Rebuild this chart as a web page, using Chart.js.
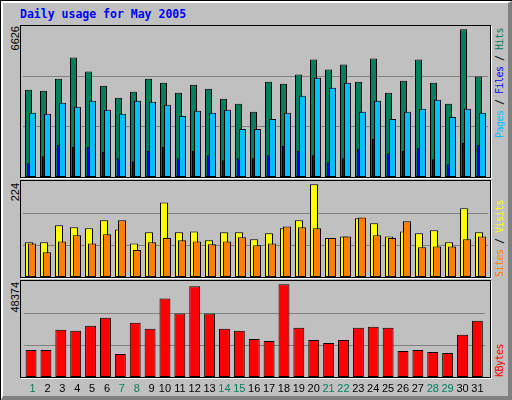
<!DOCTYPE html>
<html><head><meta charset="utf-8">
<script src="https://cdn.jsdelivr.net/npm/chart.js@4.4.1/dist/chart.umd.min.js"></script>
<style>
html,body{margin:0;padding:0;}
body{width:512px;height:400px;overflow:hidden;background:#C0C0C0;position:relative;}
.abs{position:absolute;}
#outer{left:0;top:0;width:512px;height:400px;box-sizing:border-box;border-top:1px solid #000;border-left:1px solid #000;}
#inner{left:1px;top:1px;width:511px;height:399px;box-sizing:border-box;border-top:2px solid #fff;border-left:2px solid #fff;border-right:4px solid #808080;border-bottom:4px solid #808080;}
.panel{position:absolute;box-sizing:border-box;border:1px solid #000;box-shadow:1px 1px 0 #fff;left:20px;width:471px;}
#title{left:20px;top:9px;font:bold 11.5px 'DejaVu Sans Mono',monospace;color:#0000FF;line-height:11.5px;white-space:pre;}
.vt{position:absolute;writing-mode:vertical-rl;transform:rotate(180deg);white-space:pre;}
.lab{font:11px 'Liberation Sans',Arial,sans-serif;line-height:11px;width:11px;color:#000;}
.leg{font:10px 'DejaVu Sans Mono',monospace;line-height:10px;width:10px;letter-spacing:-0.52px;color:#000;}
canvas{position:absolute;}
</style>
</head>
<body>
<div id="outer" class="abs"></div>
<div id="inner" class="abs"></div>
<div id="title" class="abs">Daily usage for May 2005</div>

<div class="panel" style="top:25px;height:153px;"></div>
<div class="panel" style="top:180px;height:98px;"></div>
<div class="panel" style="top:280px;height:98px;"></div>

<canvas id="c1" width="468" height="151" style="left:21px;top:26px;"></canvas>
<canvas id="c2" width="468" height="96" style="left:21px;top:181px;"></canvas>
<canvas id="c3" width="468" height="118" style="left:21px;top:281px;"></canvas>

<div class="vt lab" id="l1" style="left:10px;top:26px;"></div>
<div class="vt lab" id="l2" style="left:10px;top:183px;"></div>
<div class="vt lab" id="l3" style="left:10px;top:282px;"></div>

<div class="vt leg" style="left:495px;top:28px;"><span style="color:#00C0FF">Pages</span> / <span style="color:#0000FF">Files</span> / <span style="color:#00805C">Hits</span></div>
<div class="vt leg" style="left:495px;top:200px;"><span style="color:#FF8000">Sites</span> / <span style="color:#FFFF00">Visits</span></div>
<div class="vt leg" style="left:495px;top:344px;"><span style="color:#FF0000">KBytes</span></div>

<script>
// ---- data ----
const days = [1,2,3,4,5,6,7,8,9,10,11,12,13,14,15,16,17,18,19,20,21,22,23,24,25,26,27,28,29,30,31];
const weekendDays = [1,7,8,14,15,21,22,28,29];
const hits   = [3916,3871,4413,5362,4729,4097,3555,3826,4413,4232,3781,4142,3961,3510,3284,2922,4278,4187,4594,5271,4820,5046,4278,5317,3781,4323,5271,4232,3284,6626,4503];
const files  = [619,935,1432,1342,1342,1116,845,709,1161,1342,845,1161,980,754,845,845,980,1387,1161,980,664,845,1251,1703,1071,1161,1296,800,574,1522,1432];
const pages  = [2877,2832,3329,3148,3419,3013,2832,3419,3374,3239,2742,2968,2877,3013,2155,2155,2606,2877,3645,4458,4007,4232,2922,3419,2606,2922,3058,3465,2697,3058,2877];
const visits = [84,84,125,120,118,137,115,81,108,180,108,110,89,108,108,91,106,118,137,224,94,98,142,130,98,110,106,113,84,166,108];
const sites  = [81,60,86,101,81,103,137,65,84,94,89,86,79,86,96,77,81,122,120,118,94,98,144,101,94,135,72,74,74,91,98];
const kbytes = [14084,14084,24634,24107,26744,30964,11974,28327,25162,40987,33074,47317,33074,25162,24107,19887,18832,48374,25689,19359,17777,19359,25689,26217,25689,13557,14084,13029,12502,21997,29382];
const axisMaxLabels = [6626, 224, 48374];
const dayLabels = days.map(d => (d < 10 ? ' ' : '') + d);

document.getElementById('l1').textContent = String(axisMaxLabels[0]);
document.getElementById('l2').textContent = String(axisMaxLabels[1]);
document.getElementById('l3').textContent = String(axisMaxLabels[2]);

// draw datasets in index order (later ones on top)
const inOrder = {
  id: 'inOrder',
  beforeDatasetsDraw(chart) {
    for (let i = 0; i < chart.data.datasets.length; i++) {
      const m = chart.getDatasetMeta(i);
      if (!m.hidden) m.controller.draw();
    }
    return false;
  }
};

function opts(maxVal, showX) {
  return {
    responsive: false,
    animation: false,
    devicePixelRatio: 1,
    layout: { padding: { left: 2, right: 1, top: 0, bottom: 0 } },
    plugins: { legend: { display: false }, tooltip: { enabled: false }, title: { display: false } },
    scales: {
      x: {
        display: showX,
        grid: { display: false, drawTicks: false },
        border: { display: false },
        ticks: {
          display: showX,
          autoSkip: false, maxRotation: 0, minRotation: 0, padding: 5.5,
          font: { family: "'Liberation Sans', Arial, sans-serif", size: 11 },
          color: ctx => weekendDays.includes(days[ctx.index]) ? '#00805C' : '#000000'
        },
        afterFit: showX ? (ax => { ax.height = 22; }) : undefined
      },
      y: {
        min: 0, max: maxVal,
        grid: { color: '#808080', lineWidth: 1, drawTicks: false },
        border: { display: false },
        ticks: { display: false },
        afterBuildTicks: ax => { ax.ticks = [{ value: maxVal / 3 }, { value: 2 * maxVal / 3 }]; }
      }
    }
  };
}

function ds(label, data, color, cp, bp) {
  return { label, data, backgroundColor: color, borderColor: '#000000', borderWidth: 1,
           borderSkipped: false, inflateAmount: 0, categoryPercentage: cp, barPercentage: bp };
}

// category slot = 15px; P1 sub-slot 2px, bar 7px; P2 sub-slot 3px, bar 8px; P3 bar 11px
new Chart(document.getElementById('c1'), {
  type: 'bar',
  data: { labels: dayLabels, datasets: [
    ds('Hits', hits, '#00805C', 0.4, 3.5),
    ds('Files', files, '#0000FF', 0.4, 3.5),
    ds('Pages', pages, '#00C0FF', 0.4, 3.5)
  ]},
  options: opts(axisMaxLabels[0] * 151 / 147.7, false),
  plugins: [inOrder]
});

new Chart(document.getElementById('c2'), {
  type: 'bar',
  data: { labels: dayLabels, datasets: [
    ds('Visits', visits, '#FFFF00', 0.4, 8 / 3),
    ds('Sites', sites, '#FF8000', 0.4, 8 / 3)
  ]},
  options: opts(axisMaxLabels[1] * 96 / 92.7, false),
  plugins: [inOrder]
});

new Chart(document.getElementById('c3'), {
  type: 'bar',
  data: { labels: dayLabels, datasets: [
    ds('KBytes', kbytes, '#FF0000', 1.0, 11 / 15)
  ]},
  options: opts(axisMaxLabels[2] * 96 / 92.7, true),
  plugins: [inOrder]
});
</script>
</body></html>
